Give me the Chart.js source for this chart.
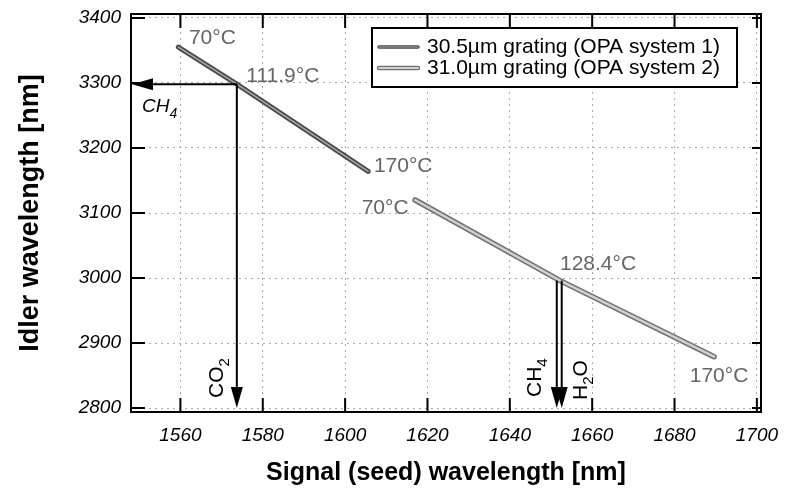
<!DOCTYPE html>
<html>
<head>
<meta charset="utf-8">
<script src="https://cdn.jsdelivr.net/npm/chart.js@4"></script>
<style>
    html, body { margin: 0; background: #fff; }
</style>
</head>
<body>
<canvas id="chart" width="790" height="492"></canvas>
<script>
// OPA tuning curves: signal (seed) vs idler wavelength, with crystal temperature
const signal1 = [1559.5, 1573.7, 1605.6]
const idler1 = [3355, 3298, 3164]
const temps1 = ['70°C', '111.9°C', '170°C']

const signal2 = [1617, 1652.2, 1689.6]
const idler2 = [3120, 2996, 2879]
const temps2 = ['70°C', '128.4°C', '170°C']

const seriesNames = ['30.5µm grating (OPA system 1)', '31.0µm grating (OPA system 2)']

const xTicks = [1560, 1580, 1600, 1620, 1640, 1660, 1680, 1700]
const yTicks = [2800, 2900, 3000, 3100, 3200, 3300, 3400]

// absorption lines marked with arrows
const idlerGas = 'CH4'
const idlerGasLine = 3298
const idlerGasFrom = 1573.7
const signalGas = ['CO2', 'CH4', 'H2O']
const signalGasLine = [1573.7, 1651.4, 1652.6]
const signalGasFrom = [3298, 2996, 2996]

const fam = "'Liberation Sans', Arial, sans-serif"
Chart.defaults.font.family = fam

// label offsets (px) from the points they describe
const tempOffsets1 = [[34, -9], [46, -8], [35, -5]]
const tempOffsets2 = [[-30, 8], [38, -16], [5, 19]]
const gasOffsets = [[-14, -10], [-16, -11], [25, -8]]

function pts(xs, ys) {
    return xs.map((v, i) => ({x: v, y: ys[i]}))
}

function chem(ctx, text, size, italic) {
    let parts = text.split(/(\d)/)
    let st = italic ? 'italic ' : ''
    let w = 0
    parts.forEach((p, i) => {
        if (!p) return
        let sub = i % 2 === 1
        ctx.font = st + (sub ? Math.round(size * 0.72) : size) + 'px ' + fam
        ctx.fillText(p, w, sub ? size * 0.3 : 0)
        w += ctx.measureText(p).width
    })
}

function arrow(ctx, x0, y0, x1, y1) {
    let a = Math.atan2(y1 - y0, x1 - x0)
    let L = 21, W = 6
    let c = Math.cos(a), s = Math.sin(a)
    ctx.beginPath()
    ctx.moveTo(x0, y0)
    ctx.lineTo(x1 - L * 0.8 * c, y1 - L * 0.8 * s)
    ctx.stroke()
    ctx.beginPath()
    ctx.moveTo(x1, y1)
    ctx.lineTo(x1 - L * c + W * s, y1 - L * s - W * c)
    ctx.lineTo(x1 - L * c - W * s, y1 - L * s + W * c)
    ctx.closePath()
    ctx.fill()
}

const overlay = {
    id: 'overlay',
    afterDatasetsDraw(chart) {
        let {ctx, chartArea: area, scales: {x, y}} = chart
        ctx.save()

        // frame with inward ticks
        ctx.strokeStyle = '#000'
        ctx.lineWidth = 2
        ctx.strokeRect(area.left, area.top, area.right - area.left, area.bottom - area.top)
        ctx.beginPath()
        xTicks.forEach(v => {
            let px = x.getPixelForValue(v)
            ctx.moveTo(px, area.bottom); ctx.lineTo(px, area.bottom - 14)
            ctx.moveTo(px, area.top); ctx.lineTo(px, area.top + 14)
        })
        yTicks.forEach(v => {
            let py = y.getPixelForValue(v)
            ctx.moveTo(area.left, py); ctx.lineTo(area.left + 14, py)
            ctx.moveTo(area.right, py); ctx.lineTo(area.right - 9, py)
        })
        ctx.stroke()

        // temperature labels
        ctx.fillStyle = '#666'
        ctx.font = '21px ' + fam
        ctx.textAlign = 'center'
        ctx.textBaseline = 'middle'
        let tl = (xs, ys, ts, offs) => ts.forEach((t, i) => {
            ctx.fillText(t, x.getPixelForValue(xs[i]) + offs[i][0], y.getPixelForValue(ys[i]) + offs[i][1])
        })
        tl(signal1, idler1, temps1, tempOffsets1)
        tl(signal2, idler2, temps2, tempOffsets2)

        // absorption arrows
        ctx.fillStyle = '#000'
        ctx.strokeStyle = '#000'
        ctx.lineWidth = 2
        let hy = y.getPixelForValue(idlerGasLine)
        arrow(ctx, x.getPixelForValue(idlerGasFrom), hy, area.left + 1, hy)
        ctx.textAlign = 'left'
        ctx.textBaseline = 'alphabetic'
        ctx.save()
        ctx.translate(area.left + 11, hy + 28)
        chem(ctx, idlerGas, 19, true)
        ctx.restore()

        signalGas.forEach((g, i) => {
            let px = x.getPixelForValue(signalGasLine[i])
            let tip = area.bottom - 4
            arrow(ctx, px, y.getPixelForValue(signalGasFrom[i]), px, tip)
            ctx.save()
            ctx.translate(px + gasOffsets[i][0], tip + gasOffsets[i][1])
            ctx.rotate(-Math.PI / 2)
            chem(ctx, g, 21, false)
            ctx.restore()
        })

        // legend
        let lx = 372, ly = 28, lw = 365, lh = 59
        ctx.fillStyle = '#fff'
        ctx.fillRect(lx, ly, lw, lh)
        ctx.lineWidth = 2
        ctx.strokeStyle = '#000'
        ctx.strokeRect(lx, ly, lw, lh)
        let styles = [['#4a4a4a', 3.5, '#a8a8a8', 1.2], ['#707070', 4.5, '#d0d0d0', 2]]
        seriesNames.forEach((name, i) => {
            let ry = ly + 19 + i * 21
            let [c1, w1, c2, w2] = styles[i]
            ctx.lineCap = 'round'
            ctx.strokeStyle = c1; ctx.lineWidth = w1
            ctx.beginPath(); ctx.moveTo(lx + 7, ry); ctx.lineTo(lx + 46, ry); ctx.stroke()
            ctx.strokeStyle = c2; ctx.lineWidth = w2
            ctx.beginPath(); ctx.moveTo(lx + 7, ry); ctx.lineTo(lx + 46, ry); ctx.stroke()
            ctx.fillStyle = '#000'
            ctx.font = '21px ' + fam
            ctx.textBaseline = 'middle'
            ctx.fillText(name, lx + 55, ry)
        })
        ctx.restore()
    },
}

new Chart(document.getElementById('chart'), {
    type: 'scatter',
    data: {
        datasets: [
            {label: seriesNames[0], data: pts(signal1, idler1), showLine: true, borderColor: '#a8a8a8', borderWidth: 1.5, pointRadius: 0, borderCapStyle: 'round', order: 0},
            {label: seriesNames[1], data: pts(signal2, idler2), showLine: true, borderColor: '#d0d0d0', borderWidth: 2.5, pointRadius: 0, borderCapStyle: 'round', order: 0},
            {label: 'outline 1', data: pts(signal1, idler1), showLine: true, borderColor: '#4a4a4a', borderWidth: 5, pointRadius: 0, borderCapStyle: 'round', order: 1},
            {label: 'outline 2', data: pts(signal2, idler2), showLine: true, borderColor: '#707070', borderWidth: 5.5, pointRadius: 0, borderCapStyle: 'round', order: 1},
        ],
    },
    options: {
        responsive: false,
        animation: false,
        devicePixelRatio: 1,
        layout: {padding: {top: 14, right: 29, left: 0, bottom: 0}},
        plugins: {legend: {display: false}, tooltip: {enabled: false}},
        scales: {
            x: {
                type: 'linear',
                min: 1548,
                max: 1701,
                afterBuildTicks: s => { s.ticks = xTicks.map(v => ({value: v})) },
                afterFit: s => { s.height = 80; s.paddingLeft = 0; s.paddingRight = 0 },
                grid: {color: '#aaa', drawTicks: false},
                border: {display: false, dash: [2, 4]},
                ticks: {padding: 12, color: '#000', font: {size: 19, style: 'italic'}, callback: v => String(v)},
                title: {display: true, text: 'Signal (seed) wavelength [nm]', color: '#000', font: {size: 25, weight: 'bold'}, padding: {top: 0, bottom: 4}},
            },
            y: {
                min: 2794,
                max: 3406,
                afterBuildTicks: s => { s.ticks = yTicks.map(v => ({value: v})) },
                afterFit: s => { s.width = 131; s.paddingTop = 0; s.paddingBottom = 0 },
                grid: {color: '#aaa', drawTicks: false},
                border: {display: false, dash: [2, 4]},
                ticks: {padding: 10, color: '#000', font: {size: 19, style: 'italic'}, callback: v => String(v)},
                title: {display: true, text: 'Idler wavelength [nm]', color: '#000', font: {size: 27, weight: 'bold'}, padding: {top: 14, bottom: 0}},
            },
        },
    },
    plugins: [overlay],
})
</script>
</body>
</html>
